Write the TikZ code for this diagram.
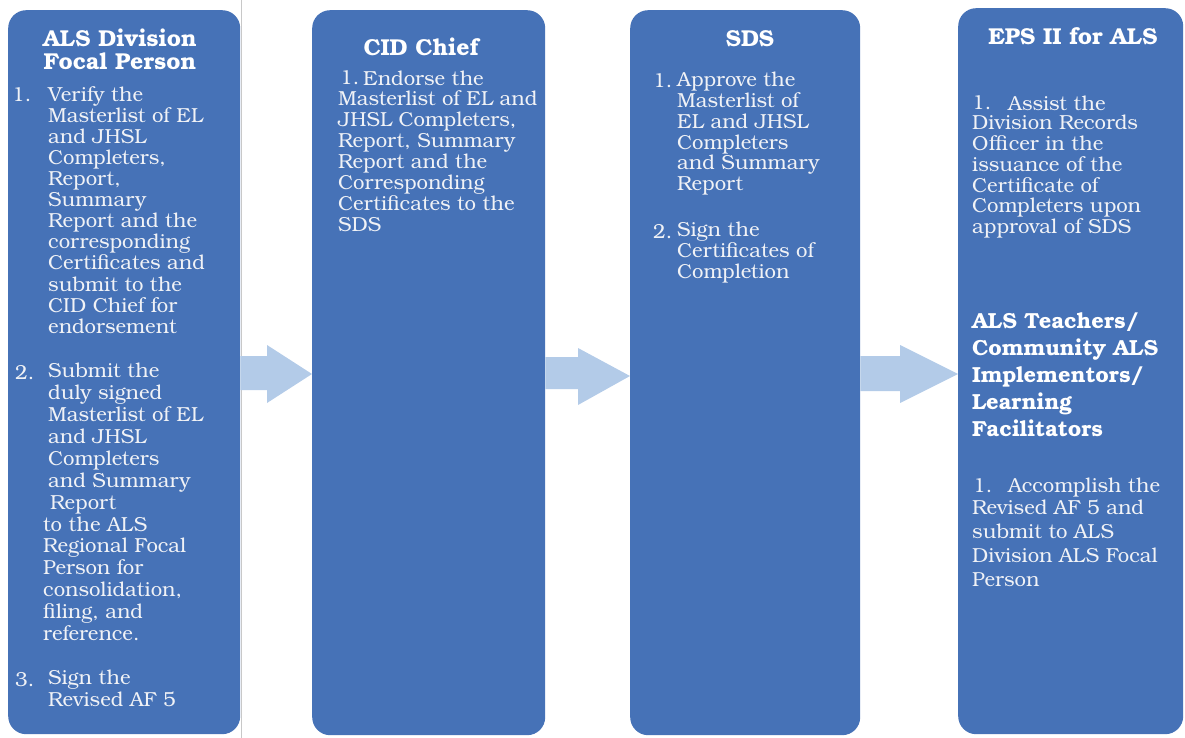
\documentclass[tikz,border=0pt]{standalone}
\usepackage{fontspec}
\setmainfont{texgyrebonum}[Extension=.otf, UprightFont=*-regular, BoldFont=*-bold]
\usetikzlibrary{calc}
\definecolor{boxblue}{HTML}{4672B7}
\definecolor{arrowblue}{HTML}{B3CBE8}
\definecolor{rulegray}{HTML}{C8C8C8}
\definecolor{paper}{HTML}{F0F2F6}
\tikzset{
  panel/.style={fill=boxblue, draw=none, rounded corners=18pt, inner sep=0pt, anchor=north west},
  title/.style={text=white, font=\bfseries\fontsize{23}{23}\selectfont, inner sep=0pt, anchor=base},
  body/.style={text=paper, font=\fontsize{20.3}{#1}\selectfont, inner sep=0pt, align=left, anchor=north west,
    execute at begin node={\rule{0pt}{16pt}}},
  body/.default=21,
  bold body/.style={body=#1, text=white, font=\bfseries\fontsize{21.8}{#1}\selectfont},
  num/.style={text=paper, font=\fontsize{20.3}{21}\selectfont, inner sep=0pt, anchor=base west},
  flow/.style={fill=arrowblue, draw=none},
}
\begin{document}
\begin{tikzpicture}[x=1pt,y=-1pt]
\useasboundingbox (0,0) rectangle (1185,738);
\draw[rulegray, line width=1pt] (241,0) coordinate (r1) -- (241,738) coordinate (r2);

% panels
\node[panel, minimum width=232pt, minimum height=724pt] (b1) at (8,10) {};
\node[panel, minimum width=233pt, minimum height=725pt] (b2) at (312,10) {};
\node[panel, minimum width=230pt, minimum height=725pt] (b3) at (630,10) {};
\node[panel, minimum width=225pt, minimum height=726pt] (b4) at (958,8) {};

% arrows
\fill[flow] (b1.east |- 0,356) -- (267,356) -- (267,345) -- (b2.west |- 0,374)
  -- (267,403) -- (267,390) -- (b1.east |- 0,390) -- cycle;
\fill[flow] (b2.east |- 0,357) -- (578,357) -- (578,348) -- (b3.west |- 0,376)
  -- (578,405) -- (578,389) -- (b2.east |- 0,389) -- cycle;
\fill[flow] (b3.east |- 0,356) -- (900,356) -- (900,345) -- (b4.west |- 0,374)
  -- (900,403) -- (900,391) -- (b3.east |- 0,391) -- cycle;

% column 1
\node[title] (t1a) at (120,47) {ALS Division};
\node[title] (t1b) at (120,70) {Focal Person};
\node[num] (n11) at (12,102) {1.};
\node[body=21.1] (x11) at (48,102-16) {Verify the\\Masterlist of EL\\and JHSL\\Completers,\\Report,\\Summary\\Report and the\\corresponding\\Certificates and\\submit to the\\CID Chief for\\endorsement};
\node[num] (n12) at (15,379) {2.};
\node[body=21.9] (x12) at (48,379-16) {Submit the\\duly signed\\Masterlist of EL\\and JHSL\\Completers\\and Summary\\\hspace*{2pt}Report};
\node[body=21.9] (x12b) at (43,379+7*21.9-16) {to the ALS\\Regional Focal\\Person for\\consolidation,\\filing, and\\reference.};
\node[num] (n13) at (15,686) {3.};
\node[body=22] (x13) at (48,686-16) {Sign the\\Revised AF 5};

% column 2
\node[title] (t2) at (421,56) {CID Chief};
\node[num] (n21) at (340,85) {1.};
\node[body] (x21a) at (363,85-16) {Endorse the};
\node[body=21.1] (x21) at (338,106-16) {Masterlist of EL and\\JHSL Completers,\\Report, Summary\\Report and the\\Corresponding\\Certificates to the\\SDS};

% column 3
\node[title] (t3) at (750,47) {SDS};
\node[num] (n31) at (653,88) {1.};
\node[body=20.8] (x31) at (677,88-16) {Approve the\\Masterlist of\\EL and JHSL\\Completers\\and Summary\\Report};
\node[num] (n32) at (653,238) {2.};
\node[body=21] (x32) at (677,238-16) {Sign the\\Certificates of\\Completion};

% column 4
\node[title] (t4) at (1073,45) {EPS II for ALS};
\node[num] (n41) at (972,110) {1.};
\node[body] (x41a) at (1008,110-16) {Assist the};
\node[body=20.8] (x41) at (972,131-16) {Division Records\\Officer in the\\issuance of the\\Certificate of\\Completers upon\\approval of SDS};
\node[bold body=27] (t4b) at (972,329-16) {ALS Teachers/\\Community ALS\\Implementors/\\Learning\\Facilitators};
\node[num] (n42) at (973,492) {1.};
\node[body] (x42a) at (1008,492-16) {Accomplish the};
\node[body=24] (x42) at (972,516-16) {Revised AF 5 and\\submit to ALS\\Division ALS Focal\\Person};
\end{tikzpicture}
\end{document}
